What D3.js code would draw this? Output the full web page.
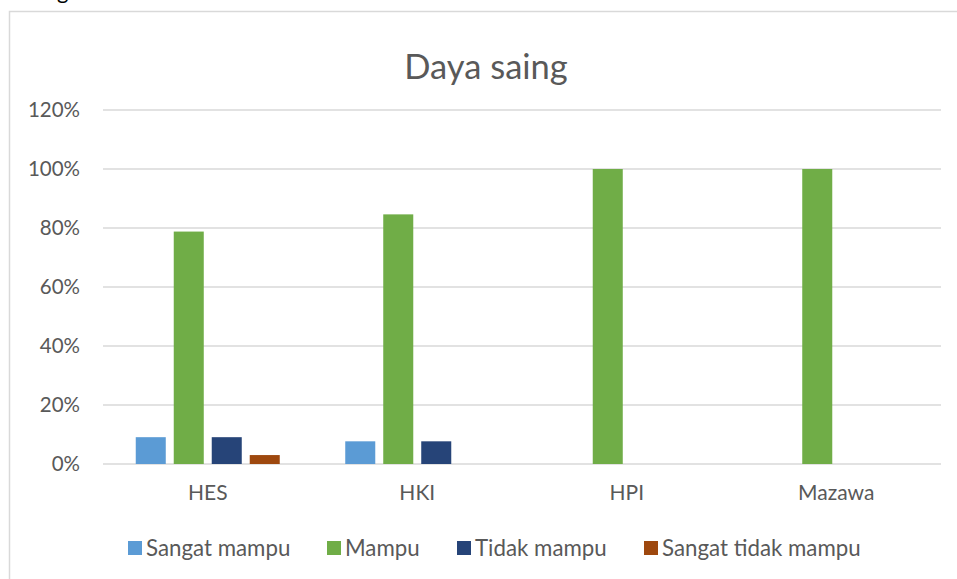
<!DOCTYPE html>
<html>
<head>
<meta charset="utf-8">
<script src="https://cdn.jsdelivr.net/npm/d3@7"></script>
<style>
  html, body { margin: 0; padding: 0; background: #ffffff; }
  svg { display: block; }
  text { font-family: Lato, "Open Sans", sans-serif; fill: #595959; }
</style>
</head>
<body>
<svg id="chart" width="957" height="579"></svg>
<script>
// ---- data ----
const title = "Daya saing";
const categories = ["HES", "HKI", "HPI", "Mazawa"];
const seriesNames = ["Sangat mampu", "Mampu", "Tidak mampu", "Sangat tidak mampu"];
const sangatMampu = [0.0909, 0.0769, 0, 0];
const mampu = [0.7879, 0.8462, 1.0, 1.0];
const tidakMampu = [0.0909, 0.0769, 0, 0];
const sangatTidakMampu = [0.0303, 0, 0, 0];
const yTicks = [0, 0.2, 0.4, 0.6, 0.8, 1.0, 1.2];
const colors = ["#5B9BD5", "#70AD47", "#264478", "#9E480E"];

const seriesValues = [sangatMampu, mampu, tidakMampu, sangatTidakMampu];

const svg = d3.select("#chart");
svg.append("rect").attr("width", 957).attr("height", 579).attr("fill", "#fff");

// stray descender from text above the chart frame (as in the reference)
svg.append("text").attr("x", 57).attr("y", -1).attr("font-size", 22).text("g").style("fill", "#000");

// chart frame
svg.append("path")
  .attr("d", "M9.5,579 L9.5,11.5 L960,11.5")
  .attr("fill", "none").attr("stroke", "#d9d9d9").attr("stroke-width", 1.5);

const plot = { left: 103, right: 941, top: 110, bottom: 464 };

const x0 = d3.scaleBand().domain(categories).range([plot.left, plot.right]).paddingInner(0).paddingOuter(0);
const x1 = d3.scaleBand().domain(seriesNames).range([0, x0.bandwidth()]).paddingInner(0.21).paddingOuter(0.862);
const y = d3.scaleLinear().domain([0, 1.2]).range([plot.bottom, plot.top]);

// gridlines
svg.append("g").selectAll("line").data(yTicks).join("line")
  .attr("x1", plot.left).attr("x2", plot.right)
  .attr("y1", d => y(d)).attr("y2", d => y(d))
  .attr("stroke", "#d9d9d9").attr("stroke-width", 1.5);

// y axis labels
const yAxis = d3.axisLeft(y).tickValues(yTicks).tickFormat(d => Math.round(d * 100) + "%").tickSize(0).tickPadding(0);
const yg = svg.append("g").attr("transform", `translate(80,0)`).call(yAxis);
yg.select(".domain").remove();
yg.selectAll("text").attr("font-size", 20.5).style("font-family", "Lato, 'Open Sans', sans-serif").attr("fill", "#595959");

// bars
const groups = svg.append("g").selectAll("g").data(categories).join("g")
  .attr("transform", d => `translate(${x0(d)},0)`);
groups.selectAll("rect")
  .data((c, ci) => seriesNames.map((s, si) => ({ s, v: seriesValues[si][ci], color: colors[si] })))
  .join("rect")
  .attr("x", d => x1(d.s))
  .attr("width", x1.bandwidth())
  .attr("y", d => y(d.v))
  .attr("height", d => y(0) - y(d.v))
  .attr("fill", d => d.color);

// x axis labels
const xAxis = d3.axisBottom(x0).tickSize(0).tickPadding(0);
const xg = svg.append("g").attr("transform", `translate(0,${plot.bottom + 21})`).call(xAxis);
xg.select(".domain").remove();
xg.selectAll("text").attr("font-size", 21).attr("dy", "0.71em").style("font-family", "Lato, 'Open Sans', sans-serif").attr("fill", "#595959");

// title
svg.append("text").attr("x", 486).attr("y", 79).attr("text-anchor", "middle")
  .attr("font-size", 34.5).text(title);

// legend
const legendX = [128, 327, 457, 644];
const legend = svg.append("g").selectAll("g").data(seriesNames).join("g")
  .attr("transform", (d, i) => `translate(${legendX[i]},541)`);
legend.append("rect").attr("width", 14).attr("height", 14).attr("fill", (d, i) => colors[i]);
legend.append("text").attr("x", 18).attr("y", 7).attr("dy", "0.35em").attr("font-size", 22.3).text(d => d);
</script>
</body>
</html>
